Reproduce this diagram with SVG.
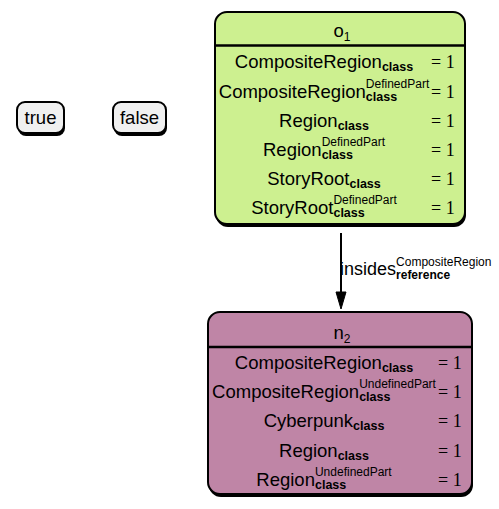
<svg xmlns="http://www.w3.org/2000/svg" width="499" height="509" viewBox="0 0 499 509">
<style>
.t{font-family:"Liberation Sans",Arial,sans-serif;font-size:18.5px;fill:#000}
.m{text-anchor:middle}
.sb{font-weight:bold;font-size:12.5px}
.sp{font-size:12px}
.v{font-family:"Liberation Serif","Times New Roman",serif;font-size:18px;fill:#000}
.sh{fill:#000}
.bd{stroke:#000;stroke-width:2}
.sep{stroke:#000;stroke-width:2.5}
</style>
<rect width="499" height="509" fill="#fff"/>
<g id="true">
<rect class="sh" x="18" y="105" width="47" height="31" rx="8"/>
<rect class="bd" x="17" y="102" width="47" height="31" rx="8" fill="#f0f0f0"/>
<text class="t m" x="40.5" y="123.5">true</text>
</g>
<g id="false">
<rect class="sh" x="114" y="105" width="53" height="31" rx="8"/>
<rect class="bd" x="113" y="102" width="53" height="31" rx="8" fill="#f0f0f0"/>
<text class="t m" x="139.5" y="123.5">false</text>
</g>
<g id="o1">
<rect class="sh" x="216" y="15" width="250" height="212" rx="12"/>
<rect class="bd" x="215" y="12" width="250" height="212" rx="12" fill="#cdf090"/>
<line class="sep" x1="215" y1="45.5" x2="465" y2="45.5"/>
<text class="t m" x="342" y="37">o<tspan class="sp" dy="4">1</tspan></text>
<text class="t m" x="324" y="68">CompositeRegion<tspan class="sb" dy="3">class</tspan></text>
<text class="t m" x="324" y="97.5">CompositeRegion<tspan class="sb" dy="3">class</tspan><tspan class="sp" dx="-31.28" dy="-13">DefinedPart</tspan></text>
<text class="t m" x="324" y="127">Region<tspan class="sb" dy="3">class</tspan></text>
<text class="t m" x="324" y="156">Region<tspan class="sb" dy="3">class</tspan><tspan class="sp" dx="-31.28" dy="-13">DefinedPart</tspan></text>
<text class="t m" x="324" y="185">StoryRoot<tspan class="sb" dy="3">class</tspan></text>
<text class="t m" x="324" y="214">StoryRoot<tspan class="sb" dy="3">class</tspan><tspan class="sp" dx="-31.28" dy="-13">DefinedPart</tspan></text>
<text class="v" x="431" y="68">= 1</text>
<text class="v" x="431" y="97.5">= 1</text>
<text class="v" x="431" y="127">= 1</text>
<text class="v" x="431" y="156">= 1</text>
<text class="v" x="431" y="185">= 1</text>
<text class="v" x="431" y="214">= 1</text>
</g>
<g id="n2">
<rect class="sh" x="209" y="315" width="264" height="182" rx="12"/>
<rect class="bd" x="208" y="312" width="264" height="182" rx="12" fill="#bf85a6"/>
<line class="sep" x1="208" y1="347" x2="472" y2="347"/>
<text class="t m" x="342" y="338.5">n<tspan class="sp" dy="4">2</tspan></text>
<text class="t m" x="324" y="369">CompositeRegion<tspan class="sb" dy="3">class</tspan></text>
<text class="t m" x="324" y="398">CompositeRegion<tspan class="sb" dy="3">class</tspan><tspan class="sp" dx="-31.28" dy="-13">UndefinedPart</tspan></text>
<text class="t m" x="324" y="427">Cyberpunk<tspan class="sb" dy="3">class</tspan></text>
<text class="t m" x="324" y="456.5">Region<tspan class="sb" dy="3">class</tspan></text>
<text class="t m" x="324" y="485.5">Region<tspan class="sb" dy="3">class</tspan><tspan class="sp" dx="-31.28" dy="-13">UndefinedPart</tspan></text>
<text class="v" x="438" y="369">= 1</text>
<text class="v" x="438" y="398">= 1</text>
<text class="v" x="438" y="427">= 1</text>
<text class="v" x="438" y="456.5">= 1</text>
<text class="v" x="438" y="485.5">= 1</text>
</g>
<g id="connectors">
<line x1="341" y1="233" x2="341" y2="293" stroke="#000" stroke-width="2"/>
<polygon points="336,292 346,292 341,309" fill="#000" stroke="#000" stroke-width="1"/>
<text class="t" x="340" y="275" style="font-size:18px">insides<tspan class="sb" dy="4" style="font-size:12px">reference</tspan><tspan class="sp" dx="-54.02" dy="-13">CompositeRegion</tspan></text>
</g>
</svg>
